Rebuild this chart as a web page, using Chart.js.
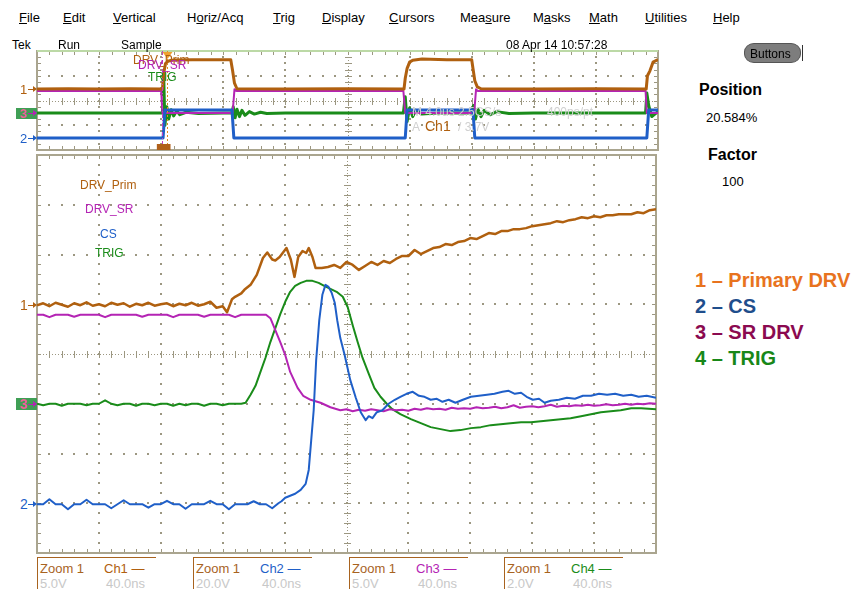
<!DOCTYPE html>
<html>
<head>
<meta charset="utf-8">
<script src="https://cdn.jsdelivr.net/npm/chart.js@4.4.1/dist/chart.umd.min.js"></script>
<style>
  html, body { margin: 0; padding: 0; background: #fff; }
  #page { position: relative; width: 860px; height: 589px; overflow: hidden; font-family: "Liberation Sans", Arial, sans-serif; }
  canvas { position: absolute; }
  .t { position: absolute; white-space: nowrap; line-height: 1; }
  .box { position: absolute; border-top: 1px solid #a8631f; border-left: 1px solid #a8631f; }
</style>
</head>
<body>
<div id="page">
  <canvas id="overview" width="623" height="101" style="left:36px;top:50px"></canvas>
  <canvas id="main" width="621" height="400" style="left:36px;top:154px"></canvas>
</div>
<script>
// ---- zoomed window (x in divisions 0..10, y in divisions -4..4) ----
const primT = [0,0.1,0.2,0.3,0.4,0.5,0.6,0.7,0.8,0.9,1,1.1,1.2,1.3,1.4,1.5,1.6,1.7,1.8,1.9,2,2.1,2.2,2.3,2.4,2.5,2.6,2.7,2.8,2.9,
  3,3.07,3.15,3.2,3.3,3.35,3.45,3.55,3.65,3.72,3.8,3.85,3.92,4.03,4.1,4.16,4.22,4.29,4.35,4.39,4.45,4.5,
  4.6,4.7,4.8,4.9,5,5.1,5.2,5.3,5.4,5.5,5.6,5.7,5.8,5.9,6,6.1,6.2,6.3,6.4,6.5,6.6,6.7,6.8,6.9,
  7,7.1,7.2,7.3,7.4,7.5,7.6,7.7,7.8,7.9,8,8.1,8.2,8.3,8.4,8.5,8.6,8.7,8.8,8.9,9,9.1,9.2,9.3,9.4,9.5,9.6,9.7,9.8,9.9,10];
const primV = [0.98,1.02,0.96,1.03,0.99,0.95,1.02,0.98,1.04,0.97,1.00,0.96,1.03,0.99,1.02,0.95,1.01,0.98,1.03,0.97,1.00,1.02,0.96,1.01,0.98,1.03,0.97,1.00,1.05,0.93,
  0.96,0.84,1.10,1.15,1.22,1.29,1.39,1.59,1.93,2.04,1.90,1.88,1.95,2.13,1.90,1.55,1.95,2.07,2.03,2.13,1.95,1.73,
  1.73,1.75,1.79,1.73,1.85,1.79,1.69,1.77,1.85,1.79,1.87,1.83,1.91,1.97,1.97,2.09,2.01,2.07,2.13,2.15,2.21,2.19,2.25,2.27,
  2.33,2.31,2.37,2.43,2.41,2.47,2.47,2.51,2.51,2.53,2.57,2.59,2.61,2.63,2.67,2.65,2.69,2.71,2.75,2.73,2.77,2.75,2.79,2.79,2.81,2.81,2.81,2.85,2.83,2.89,2.91];

const srT = [0,0.1,0.2,0.3,0.4,0.5,0.6,0.7,0.8,0.9,1,1.1,1.2,1.3,1.4,1.5,1.6,1.7,1.8,1.9,2,2.1,2.2,2.3,2.4,2.5,2.6,2.7,2.8,2.9,3,3.1,3.2,3.3,3.4,3.5,3.6,3.7,
  3.77,3.85,3.93,4.01,4.09,4.21,4.3,4.42,4.58,4.74,4.9,
  5,5.1,5.2,5.3,5.4,5.5,5.6,5.7,5.8,5.9,6,6.1,6.2,6.3,6.4,6.5,6.6,6.7,6.8,6.9,7,7.1,7.2,7.3,7.4,7.5,7.6,7.7,7.8,7.9,
  8,8.1,8.2,8.3,8.4,8.5,8.6,8.7,8.8,8.9,9,9.1,9.2,9.3,9.4,9.5,9.6,9.7,9.8,9.9,10];
const srV = [0.79,0.79,0.74,0.79,0.79,0.79,0.75,0.79,0.79,0.79,0.79,0.74,0.79,0.79,0.79,0.79,0.79,0.75,0.79,0.79,0.79,0.79,0.74,0.79,0.79,0.79,0.79,0.75,0.79,0.79,0.79,0.79,0.74,0.79,0.79,0.79,0.79,0.79,
  0.72,0.48,0.24,-0.02,-0.36,-0.68,-0.84,-0.92,-0.98,-1.07,-1.13,
  -1.11,-1.15,-1.12,-1.14,-1.11,-1.13,-1.15,-1.11,-1.13,-1.12,-1.14,-1.10,-1.12,-1.09,-1.11,-1.10,-1.12,-1.08,-1.10,-1.09,-1.10,-1.07,-1.09,-1.08,-1.06,-1.09,-1.07,-1.03,-1.08,-1.06,
  -1.05,-1.07,-1.05,-1.02,-1.06,-1.04,-1.05,-1.03,-1.04,-1.02,-1.04,-1.03,-1.01,-1.03,-1.02,-1.00,-1.02,-1.00,-1.01,-0.99,-1.00];

const csT = [0,0.1,0.2,0.3,0.4,0.5,0.6,0.7,0.8,0.9,1,1.1,1.2,1.3,1.4,1.5,1.6,1.7,1.8,1.9,2,2.1,2.2,2.3,2.4,2.5,2.6,2.7,2.8,2.9,3,3.1,3.2,3.3,3.4,3.5,3.6,3.7,3.8,3.9,
  3.95,4.01,4.09,4.17,4.26,4.34,4.39,4.43,4.47,4.51,4.56,4.61,4.66,4.71,4.76,4.81,4.85,4.9,4.97,5.06,5.15,5.23,5.31,5.36,5.42,
  5.49,5.58,5.68,5.78,5.87,5.97,6.07,6.17,6.26,6.36,6.46,6.55,6.65,6.76,6.88,7.01,7.14,7.27,7.39,7.52,7.62,7.72,7.82,7.91,8.01,
  8.11,8.2,8.3,8.43,8.56,8.69,8.82,8.95,9.08,9.21,9.34,9.47,9.6,9.72,9.85,10];
const csV = [-3.02,-3.02,-2.92,-3.02,-3.02,-3.12,-3.02,-3.02,-2.93,-3.02,-3.02,-3.02,-3.10,-3.02,-2.94,-3.02,-3.02,-3.02,-3.09,-3.02,
  -3.02,-2.95,-3.02,-3.02,-3.11,-3.02,-3.02,-3.02,-2.95,-3.02,-3.02,-3.12,-3.02,-3.02,-3.02,-2.96,-3.02,-3.02,-3.10,-3.00,
  -2.96,-2.89,-2.85,-2.81,-2.73,-2.61,-2.33,-1.73,-1.13,-0.12,0.68,1.19,1.39,1.35,1.23,1.03,0.68,0.32,-0.02,-0.52,-0.88,-1.17,-1.33,-1.25,-1.29,
  -1.17,-1.13,-1.00,-0.92,-0.86,-0.80,-0.76,-0.84,-0.86,-0.92,-0.90,-0.96,-0.92,-0.98,-0.92,-0.86,-0.84,-0.82,-0.80,-0.76,-0.74,-0.80,-0.78,-0.86,-0.92,
  -0.90,-0.98,-0.94,-0.92,-0.88,-0.90,-0.84,-0.84,-0.80,-0.82,-0.80,-0.84,-0.82,-0.86,-0.84,-0.88];

const trigT = [0,0.1,0.2,0.3,0.4,0.5,0.6,0.7,0.8,0.9,1,1.1,1.2,1.3,1.4,1.5,1.6,1.7,1.8,1.9,2,2.1,2.2,2.3,2.4,2.5,2.6,2.7,2.8,2.9,3,3.1,3.2,3.3,
  3.37,3.45,3.53,3.61,3.69,3.77,3.85,3.93,4.01,4.09,4.17,4.26,4.35,4.45,4.55,4.64,4.74,4.84,4.94,5.02,5.1,5.18,5.26,5.36,5.45,
  5.55,5.65,5.74,5.87,6.04,6.2,6.36,6.52,6.68,6.84,7.01,7.17,7.33,7.49,7.65,7.82,7.98,8.14,8.3,8.46,8.62,8.79,8.95,9.11,9.27,9.43,9.6,9.76,10];
const trigV = [-1.00,-1.03,-1.00,-1.00,-1.04,-1.00,-1.00,-1.00,-1.03,-1.00,-1.00,-0.93,-1.00,-1.03,-1.00,-1.00,-1.04,-1.00,-1.00,-1.03,-1.00,-1.00,-1.04,-1.00,-1.03,-1.00,-1.00,-1.04,-1.00,-1.00,-1.03,-1.00,-1.00,-1.00,
  -0.98,-0.82,-0.64,-0.36,-0.08,0.24,0.52,0.80,1.05,1.25,1.37,1.43,1.47,1.47,1.43,1.37,1.31,1.25,1.15,0.94,0.58,0.24,-0.08,-0.40,-0.68,
  -0.86,-1.00,-1.11,-1.21,-1.31,-1.39,-1.47,-1.51,-1.55,-1.53,-1.49,-1.47,-1.43,-1.41,-1.39,-1.37,-1.37,-1.35,-1.33,-1.31,-1.29,-1.25,-1.21,-1.17,-1.15,-1.13,-1.09,-1.09,-1.11];

// ---- full record (overview strip) ----
const ovPrimT = [0,0.5,1,1.5,2.02,2.04,2.07,2.12,2.2,2.5,2.8,3.12,3.15,3.18,3.22,4,5,5.91,5.93,5.96,6,6.05,6.2,6.6,7,7.02,7.05,7.09,7.15,8,9,9.81,9.83,9.87,9.92,10];
const ovPrimV = [0.93,0.95,0.93,0.95,0.93,2.2,3.0,3.2,3.27,3.3,3.3,3.3,2.4,1.4,0.95,0.93,0.95,0.93,1.8,2.6,3.1,3.25,3.35,3.3,3.3,2.6,1.6,1.1,0.95,0.93,0.95,0.93,2.0,2.4,3.1,3.3];
const ovSrT = [0,2,2.02,3.15,3.18,3.22,5.9,5.93,7.04,7.07,7.1,9.8,9.82,10];
const ovSrV = [0.76,0.76,-1.01,-1.01,0.9,0.76,0.76,-1.01,-1.01,0.9,0.76,0.76,-1.01,-1.01];
const ovCsT = [0,2.03,2.06,3.14,3.17,5.93,5.96,7.02,7.05,9.82,9.85,10];
const ovCsV = [-3.03,-3.03,-0.77,-0.77,-3.03,-3.03,-0.77,-0.77,-3.03,-3.03,-0.77,-0.77];
const ovTrigT = [0,1,2,2.02,2.04,2.06,2.09,2.12,2.16,2.2,2.25,2.3,2.4,2.6,3,3.14,3.16,3.19,3.22,3.26,3.3,3.35,3.42,3.5,3.6,3.7,4,5,5.9,5.93,5.96,6,6.05,6.1,6.2,6.5,7,7.03,7.06,7.1,7.15,7.2,7.3,7.4,7.6,8,9,9.8,9.82,9.85,9.9,10];
const ovTrigV = [-1.01,-1.01,-1.01,-1.01,2.0,-2.0,-0.5,-1.5,-0.75,-1.25,-0.85,-1.15,-0.95,-1.05,-1.01,-1.01,-0.5,-1.4,-0.7,-1.3,-0.8,-1.2,-0.9,-1.1,-0.95,-1.05,-1.01,-1.01,-1.01,0.3,-1.7,-0.6,-1.3,-0.8,-1.1,-1.0,-1.01,-0.4,-1.5,-0.7,-1.3,-0.8,-1.15,-0.9,-1.05,-1.01,-1.01,-1.01,0.6,-0.4,-1.3,-0.9];

const BROWN = '#b0600f', MAGENTA = '#b424b4', BLUE = '#1f5fc8', GREEN = '#1a8c1a';
const page = document.getElementById('page');

function pts(ts, vs) { return ts.map((t, i) => ({ x: t, y: vs[i] })); }
function trace(label, ts, vs, color, width, order) {
  return { label, data: pts(ts, vs), borderColor: color, backgroundColor: color, borderWidth: width,
    pointRadius: 0, showLine: true, tension: 0, order, borderJoinStyle: 'round' };
}

// scope graticule: dotted majors, dense centre cross, ticked frame
const scopeGrid = {
  id: 'scopeGrid',
  beforeDatasetsDraw(chart, args, o) {
    const { ctx, chartArea: a } = chart;
    const sx = chart.scales.x, sy = chart.scales.y;
    const X = v => Math.round(sx.getPixelForValue(v));
    const Y = v => Math.round(sy.getPixelForValue(v));
    const nx = Math.round((sx.max - sx.min) / 0.2);
    const ny = Math.round((sy.max - sy.min) / o.yMinor);
    ctx.save();
    ctx.fillStyle = o.dot;
    for (let i = sx.min + 1; i < sx.max; i++) {
      if (i === 5) continue;
      for (let j = 0; j <= ny; j++) ctx.fillRect(X(i) - 1, Y(sy.min + j * o.yMinor) - 1, 2, 2);
    }
    for (let v = sy.min + o.yMajor; v < sy.max; v += o.yMajor) {
      if (v === 0) continue;
      for (let j = 0; j <= nx; j++) ctx.fillRect(X(j * 0.2) - 1, Y(v) - 1, 2, 2);
    }
    ctx.strokeStyle = o.dot;
    ctx.lineWidth = 1;
    ctx.setLineDash([1, 2]);
    ctx.beginPath();
    ctx.moveTo(a.left, Y(0) + 0.5); ctx.lineTo(a.right, Y(0) + 0.5);
    ctx.moveTo(X(5) + 0.5, a.top); ctx.lineTo(X(5) + 0.5, a.bottom);
    ctx.stroke();
    ctx.setLineDash([]);
    ctx.beginPath();
    for (let j = 0; j <= nx; j++) {
      const px = X(j * 0.2) + 0.5;
      ctx.moveTo(px, Y(0) - 3); ctx.lineTo(px, Y(0) + 4);
      ctx.moveTo(px, a.top); ctx.lineTo(px, a.top + 4);
      ctx.moveTo(px, a.bottom); ctx.lineTo(px, a.bottom - 4);
    }
    for (let j = 0; j <= ny; j++) {
      const py = Y(sy.min + j * o.yMinor) + 0.5;
      ctx.moveTo(X(5) - 3, py); ctx.lineTo(X(5) + 4, py);
      ctx.moveTo(a.left, py); ctx.lineTo(a.left + 4, py);
      ctx.moveTo(a.right, py); ctx.lineTo(a.right - 4, py);
    }
    ctx.stroke();
    ctx.strokeStyle = o.frame;
    ctx.lineWidth = 2;
    ctx.strokeRect(a.left, a.top, a.right - a.left, a.bottom - a.top);
    if (o.top) {
      ctx.strokeStyle = o.top;
      ctx.beginPath(); ctx.moveTo(a.left, a.top); ctx.lineTo(a.right, a.top); ctx.stroke();
    }
    ctx.restore();
  },
  afterDatasetsDraw(chart, args, o) {
    if (!o.marks) return;
    const { ctx, chartArea: a } = chart;
    const sx = chart.scales.x;
    const m = o.marks;
    ctx.save();
    ctx.lineWidth = 1;
    let px = Math.round(sx.getPixelForValue(m.pos)) + 0.5;
    ctx.strokeStyle = '#c040c0'; ctx.setLineDash([4, 2, 1, 2]);
    ctx.beginPath(); ctx.moveTo(px, a.top); ctx.lineTo(px, a.bottom); ctx.stroke();
    px = Math.round(sx.getPixelForValue(m.trig)) + 0.5;
    ctx.strokeStyle = '#e08a20'; ctx.setLineDash([2, 2]);
    ctx.beginPath(); ctx.moveTo(px, a.top); ctx.lineTo(px, a.bottom); ctx.stroke();
    ctx.setLineDash([]);
    ctx.fillStyle = '#f0a030';
    ctx.beginPath(); ctx.moveTo(px - 5, a.top + 1); ctx.lineTo(px + 5, a.top + 1); ctx.lineTo(px, a.top + 8); ctx.fill();
    const x0 = sx.getPixelForValue(m.box[0]), x1 = sx.getPixelForValue(m.box[1]);
    ctx.fillStyle = '#b0601a';
    ctx.fillRect(x0, a.bottom - 6, x1 - x0, 6);
    ctx.restore();
  }
};

function scopeOptions(grid) {
  return {
    responsive: false, animation: false, events: [],
    layout: { padding: 1 },
    plugins: { legend: { display: false }, tooltip: { enabled: false }, scopeGrid: grid },
    scales: {
      x: { type: 'linear', min: 0, max: 10, display: false },
      y: { type: 'linear', min: -4, max: 4, display: false }
    }
  };
}

new Chart(document.getElementById('overview'), {
  type: 'scatter',
  data: { datasets: [
    trace('DRV_Prim', ovPrimT, ovPrimV, BROWN, 3, 0),
    trace('CS', ovCsT, ovCsV, BLUE, 3, 1),
    trace('DRV_SR', ovSrT, ovSrV, MAGENTA, 2, 2),
    trace('TRIG', ovTrigT, ovTrigV, GREEN, 3, 3)
  ] },
  options: scopeOptions({ yMajor: 2, yMinor: 0.5, dot: '#9c9781', frame: '#aaa58f', top: '#bcd9a6',
    marks: { pos: 2.01, trig: 2.09, box: [1.93, 2.15] } }),
  plugins: [scopeGrid]
});

new Chart(document.getElementById('main'), {
  type: 'scatter',
  data: { datasets: [
    trace('DRV_Prim', primT, primV, BROWN, 2.5, 0),
    trace('CS', csT, csV, BLUE, 2, 1),
    trace('DRV_SR', srT, srV, MAGENTA, 2, 2),
    trace('TRIG', trigT, trigV, GREEN, 2, 3)
  ] },
  options: scopeOptions({ yMajor: 1, yMinor: 0.2, dot: '#9c9781', frame: '#aaa58f' }),
  plugins: [scopeGrid]
});

// ---- screen text ----
function put(text, x, base, size, color, weight, ul) {
  const d = document.createElement('div');
  d.className = 't';
  d.style.left = x + 'px';
  d.style.top = (base - 0.8465 * size) + 'px';
  d.style.fontSize = size + 'px';
  d.style.color = color || '#000';
  if (weight) d.style.fontWeight = weight;
  if (ul != null) d.innerHTML = text.slice(0, ul) + '<u>' + text[ul] + '</u>' + text.slice(ul + 1);
  else d.textContent = text;
  page.appendChild(d);
  return d;
}
function rect(x, y, w, h, css) {
  const d = document.createElement('div');
  d.style.cssText = 'position:absolute;left:' + x + 'px;top:' + y + 'px;width:' + w + 'px;height:' + h + 'px;' + (css || '');
  page.appendChild(d);
  return d;
}
function arrow(x, y, color) {
  rect(x, y, 5, 1, 'background:' + color + ';');
  rect(x + 5, y - 3, 0, 0, 'border-left:4px solid ' + color + ';border-top:3.5px solid transparent;border-bottom:3.5px solid transparent;');
}

const menu = [['File', 19, 0], ['Edit', 63, 0], ['Vertical', 113, 0], ['Horiz/Acq', 187, 1], ['Trig', 273, 0], ['Display', 322, 0],
  ['Cursors', 389, 0], ['Measure', 460, 3], ['Masks', 533, 1], ['Math', 589, 0], ['Utilities', 645, 0], ['Help', 713, 0]];
menu.forEach(m => put(m[0], m[1], 22, 13, '#000', null, m[2]));
put('Tek', 12, 49, 12); put('Run', 58, 49, 12); put('Sample', 121, 49, 12);
put('08 Apr 14 10:57:28', 506, 49, 12);

// right panel
rect(744, 43, 57, 20, 'background:#7d7d7d;border:1px solid #555;border-radius:10px/9px;box-sizing:border-box;');
put('Buttons', 750, 58, 12);
rect(802, 45, 1, 16, 'background:#333;');
put('Position', 699, 96, 16, '#000', 'bold');
put('20.584%', 706, 122, 13);
put('Factor', 708, 161, 16, '#000', 'bold');
put('100', 722, 186, 13);

put('1 \u2013 Primary DRV', 695, 287, 20, '#e8731e', 'bold');
put('2 \u2013 CS', 695, 313, 20, '#1f4e8c', 'bold');
put('3 \u2013 SR DRV', 695, 339, 20, '#8b0a50', 'bold');
put('4 \u2013 TRIG', 695, 365, 20, '#188718', 'bold');

// overview labels and readouts
put('DRV_Prim', 133, 64, 12, BROWN);
put('DRV_SR', 138, 69, 12, MAGENTA);
put('TRIG', 148, 81, 12, GREEN);
put('M 4.0us 2.5GS/s', 412, 116, 12, '#d0d0d0');
put('400ps/pt', 547, 116, 12, '#d0d0d0');
put('A', 412, 131, 12, '#d0d0d0');
put('Ch1', 425, 131, 14, BROWN);
put('/ 3.7V', 458, 131, 12, '#d0d0d0');

// main labels
put('DRV_Prim', 80, 189, 12, BROWN);
put('DRV_SR', 85, 213, 12, MAGENTA);
put('CS', 100, 238, 12, BLUE);
put('TRIG', 95, 257, 12, GREEN);

// channel ground markers
function marker(label, y, color, fs) {
  put(label, 20, y + 5, fs, color);
  arrow(28, y, color);
}
marker('1', 305, BROWN, 14); marker('2', 504, BLUE, 14);
marker('1', 89, BROWN, 13); marker('2', 138, BLUE, 13);
[[398, 12, 404], [108, 11, 113]].forEach(b => {
  rect(16, b[0], 21, b[1], 'background:#3f9f55;');
  put('3', 20, b[0] + b[1] - 1, b[1] + 2, '#f0609a', 'bold');
  arrow(28, b[2], MAGENTA);
});

// bottom readouts
const readouts = [[37, 'Ch1 \u2014', BROWN, '5.0V'], [193, 'Ch2 \u2014', BLUE, '20.0V'],
  [349, 'Ch3 \u2014', MAGENTA, '5.0V'], [504, 'Ch4 \u2014', GREEN, '2.0V']];
readouts.forEach(r => {
  const d = document.createElement('div');
  d.className = 'box';
  d.style.cssText += 'left:' + r[0] + 'px;top:557px;width:118px;height:40px;';
  page.appendChild(d);
  put('Zoom 1', r[0] + 3, 573, 13, '#a8631f');
  put(r[1], r[0] + 67, 573, 13, r[2]);
  put(r[3], r[0] + 3, 588, 13, '#c8c8c8');
  put('40.0ns', r[0] + 69, 588, 13, '#c8c8c8');
});
</script>
</body>
</html>
